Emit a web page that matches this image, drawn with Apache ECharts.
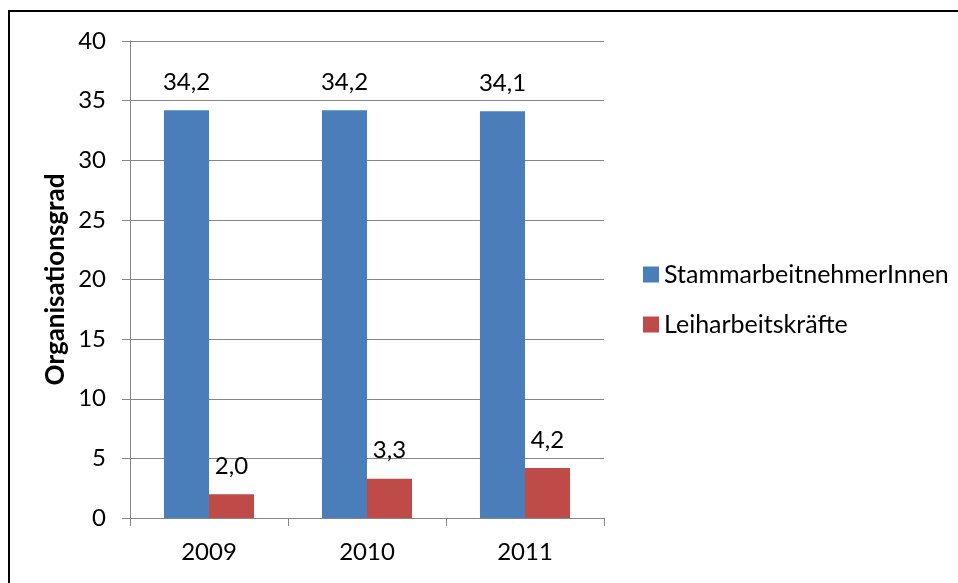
<!DOCTYPE html>
<html>
<head>
<meta charset="utf-8">
<script src="https://cdn.jsdelivr.net/npm/echarts@6/dist/echarts.min.js"></script>
<style>
  html, body { margin: 0; padding: 0; background: #fff; }
  #chart { width: 958px; height: 583px; }
</style>
</head>
<body>
<div id="chart"></div>
<script>
var years = ['2009', '2010', '2011'];
var stamm = [34.2, 34.2, 34.1];
var leih = [2.0, 3.3, 4.2];
var yTicks = [0, 40, 5]; // min, max, interval

var font = 'Lato';
var gridColor = '#868686';

function comma(p) {
  return p.value.toFixed(1).replace('.', ',');
}

var myChart = echarts.init(document.getElementById('chart'));
var option = {
  backgroundColor: '#fff',
  textStyle: { fontFamily: font },
  animation: false,
  graphic: [
    {
      type: 'polyline',
      shape: { points: [[9, 600], [9, 11], [960, 11]] },
      style: { stroke: '#000', lineWidth: 2, fill: null }
    }
  ],
  legend: {
    orient: 'vertical',
    left: 643,
    top: 262,
    padding: 0,
    itemWidth: 16,
    itemHeight: 16,
    itemGap: 25,
    icon: 'rect',
    textStyle: { fontFamily: font, fontSize: 25, color: '#000' },
    data: ['StammarbeitnehmerInnen', 'Leiharbeitskräfte']
  },
  grid: { left: 130, right: 354, top: 41, bottom: 65, containLabel: false },
  xAxis: {
    type: 'category',
    data: years,
    axisLine: { lineStyle: { color: gridColor, width: 1 } },
    axisTick: { show: true, length: 8, lineStyle: { color: gridColor } },
    axisLabel: { fontFamily: font, fontSize: 24, color: '#000', margin: 22 }
  },
  yAxis: {
    type: 'value',
    min: yTicks[0],
    max: yTicks[1],
    interval: yTicks[2],
    name: 'Organisationsgrad',
    nameLocation: 'middle',
    nameGap: 61,
    nameTextStyle: { fontFamily: font, fontSize: 26, fontWeight: 'bold', color: '#000' },
    axisLine: { show: true, lineStyle: { color: gridColor, width: 1 } },
    axisTick: { show: true, length: 8, lineStyle: { color: gridColor } },
    axisLabel: { fontFamily: font, fontSize: 24, color: '#000', margin: 24 },
    splitLine: { lineStyle: { color: gridColor, width: 1 } }
  },
  series: [
    {
      name: 'StammarbeitnehmerInnen',
      type: 'bar',
      data: stamm,
      barGap: '0%',
      barCategoryGap: '43%',
      itemStyle: { color: '#4A7EBB' },
      label: { show: true, position: 'top', distance: 16, formatter: comma, fontFamily: font, fontSize: 24, color: '#000' }
    },
    {
      name: 'Leiharbeitskräfte',
      type: 'bar',
      data: leih,
      itemStyle: { color: '#BE4B48' },
      label: { show: true, position: 'top', distance: 16, formatter: comma, fontFamily: font, fontSize: 24, color: '#000' }
    }
  ]
};
myChart.setOption(option);
</script>
</body>
</html>
